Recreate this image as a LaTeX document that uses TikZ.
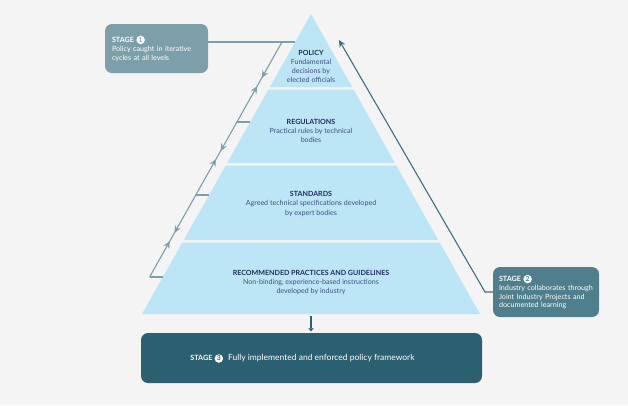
\documentclass[tikz,border=0pt]{standalone}
\usepackage{fontspec}
\setmainfont{Lato}
\usetikzlibrary{arrows.meta,calc,positioning,decorations.markings}

\definecolor{bggray}{HTML}{F4F4F4}
\definecolor{pyrblue}{HTML}{BCE5F5}
\definecolor{titlecol}{HTML}{1E2C5C}
\definecolor{desccol}{HTML}{3F4F85}
\definecolor{stageone}{HTML}{7C9FAA}
\definecolor{stagetwo}{HTML}{4F7F8C}
\definecolor{stagethree}{HTML}{2C5F70}
\definecolor{cyclecol}{HTML}{7C9FAA}
\definecolor{industrycol}{HTML}{3E6F7E}

\newcommand{\layertitle}[1]{\textcolor{titlecol}{\bfseries #1}}
\newcommand{\stagenum}[2]{\tikz[baseline=(sn.base)]\node (sn) [circle,fill=white,inner sep=0pt,minimum size=8.5pt,text=#2,font=\fontsize{6.8}{6.8}\selectfont\bfseries] {#1};}
\newcommand{\stagehead}[2]{{\bfseries\fontsize{7.2}{7.2}\selectfont STAGE}\ \stagenum{#1}{#2}}

\begin{document}
\begin{tikzpicture}[x=1pt,y=-1pt,
    stagebox/.style={rounded corners=7pt, text=white, align=left, inner xsep=7pt,
      font=\fontsize{7.2}{8.6}\selectfont},
    layertext/.style={align=center, text=desccol, font=\fontsize{7.1}{9.2}\selectfont},
    cycleline/.style={draw=cyclecol, line width=1.1pt},
    cycletip/.style={cyclecol},
    industryline/.style={draw=industrycol, line width=1.1pt}]

  % background
  \fill[bggray] (0,0) rectangle (628,405);
  \useasboundingbox (0,0) rectangle (628,405);

  % pyramid layers
  \coordinate (apex) at (311,14);
  \coordinate (bl) at (142,314);
  \coordinate (br) at (480,314);
  \fill[pyrblue] (apex) -- (352.1,87) -- (269.9,87) -- cycle;
  \fill[pyrblue] (268.5,89.5) -- (353.5,89.5) -- (394.9,163) -- (227.1,163) -- cycle;
  \fill[pyrblue] (225.7,165.5) -- (396.3,165.5) -- (438.3,240) -- (183.7,240) -- cycle;
  \fill[pyrblue] (182.3,242.5) -- (439.7,242.5) -- (br) -- (bl) -- cycle;

  % layer texts
  \node[layertext] (policy) at (311,66.5)
    {\layertitle{POLICY}\\Fundamental\\decisions by\\elected officials};
  \node[layertext] (regulations) at (311,131)
    {\layertitle{REGULATIONS}\\Practical rules by technical\\bodies};
  \node[layertext] (standards) at (311,204)
    {\layertitle{STANDARDS}\\Agreed technical specifications developed\\by expert bodies};
  \node[layertext] (practices) at (311,282.5)
    {\layertitle{RECOMMENDED PRACTICES AND GUIDELINES}\\Non-binding, experience-based instructions\\developed by industry};

  % stage boxes
  \node[stagebox, fill=stageone, minimum width=103, minimum height=49, text width=89] (s1) at (156.5,48.5)
    {\stagehead{1}{stageone}\\[0.5pt]Policy caught in iterative\\cycles at all levels};
  \node[stagebox, fill=stagetwo, minimum width=106, minimum height=50, text width=94, inner xsep=6pt] (s2) at (546,292)
    {\stagehead{2}{stagetwo}\\[0.5pt]Industry collaborates through\\Joint Industry Projects and\\documented learning};
  \node[stagebox, fill=stagethree, minimum width=341, minimum height=50] (s3) at (311.5,358) {};
  \node[text=white, font=\fontsize{8.5}{9}\selectfont] (s3text) at (302.5,358.5)
    {\stagehead{3}{stagethree}\hspace{5pt}Fully implemented and enforced policy framework};

  % stage 1 cycles
  \coordinate (c1) at (295,42);
  \coordinate (k1) at (282,42);
  \coordinate (k4) at (149.6,277);
  \draw[cycleline] (s1.east |- c1) -- (c1);
  \draw[cycleline, postaction=decorate, decoration={markings,
      mark=at position 0.152 with {\arrow[cycletip]{Stealth[length=7pt,width=6.5pt]}},
      mark=at position 0.188 with {\arrowreversed[cycletip]{Stealth[length=7pt,width=6.5pt]}},
      mark=at position 0.463 with {\arrow[cycletip]{Stealth[length=7pt,width=6.5pt]}},
      mark=at position 0.499 with {\arrowreversed[cycletip]{Stealth[length=7pt,width=6.5pt]}},
      mark=at position 0.812 with {\arrow[cycletip]{Stealth[length=7pt,width=6.5pt]}},
      mark=at position 0.848 with {\arrowreversed[cycletip]{Stealth[length=7pt,width=6.5pt]}}}]
    (k1) -- (k4);
  \draw[cycleline] (236.9,122) -- (250.2,122);
  \draw[cycleline] (195.8,195) -- (209,195);
  \draw[cycleline] (k4) -- (163,277);

  % stage 2 industry
  \coordinate (c2) at (485,292);
  \coordinate (c2end) at (339,40);
  \draw[industryline, -{Stealth[length=7pt,width=6.5pt]}] (s2.west) -- (c2) -- (c2end);

  % to stage 3
  \coordinate (base) at (311,316);
  \draw[stagethree, line width=2pt, -{Triangle[length=3pt,width=5.5pt]}] (base) -- ([yshift=1.5pt]s3.north -| base);
\end{tikzpicture}
\end{document}
